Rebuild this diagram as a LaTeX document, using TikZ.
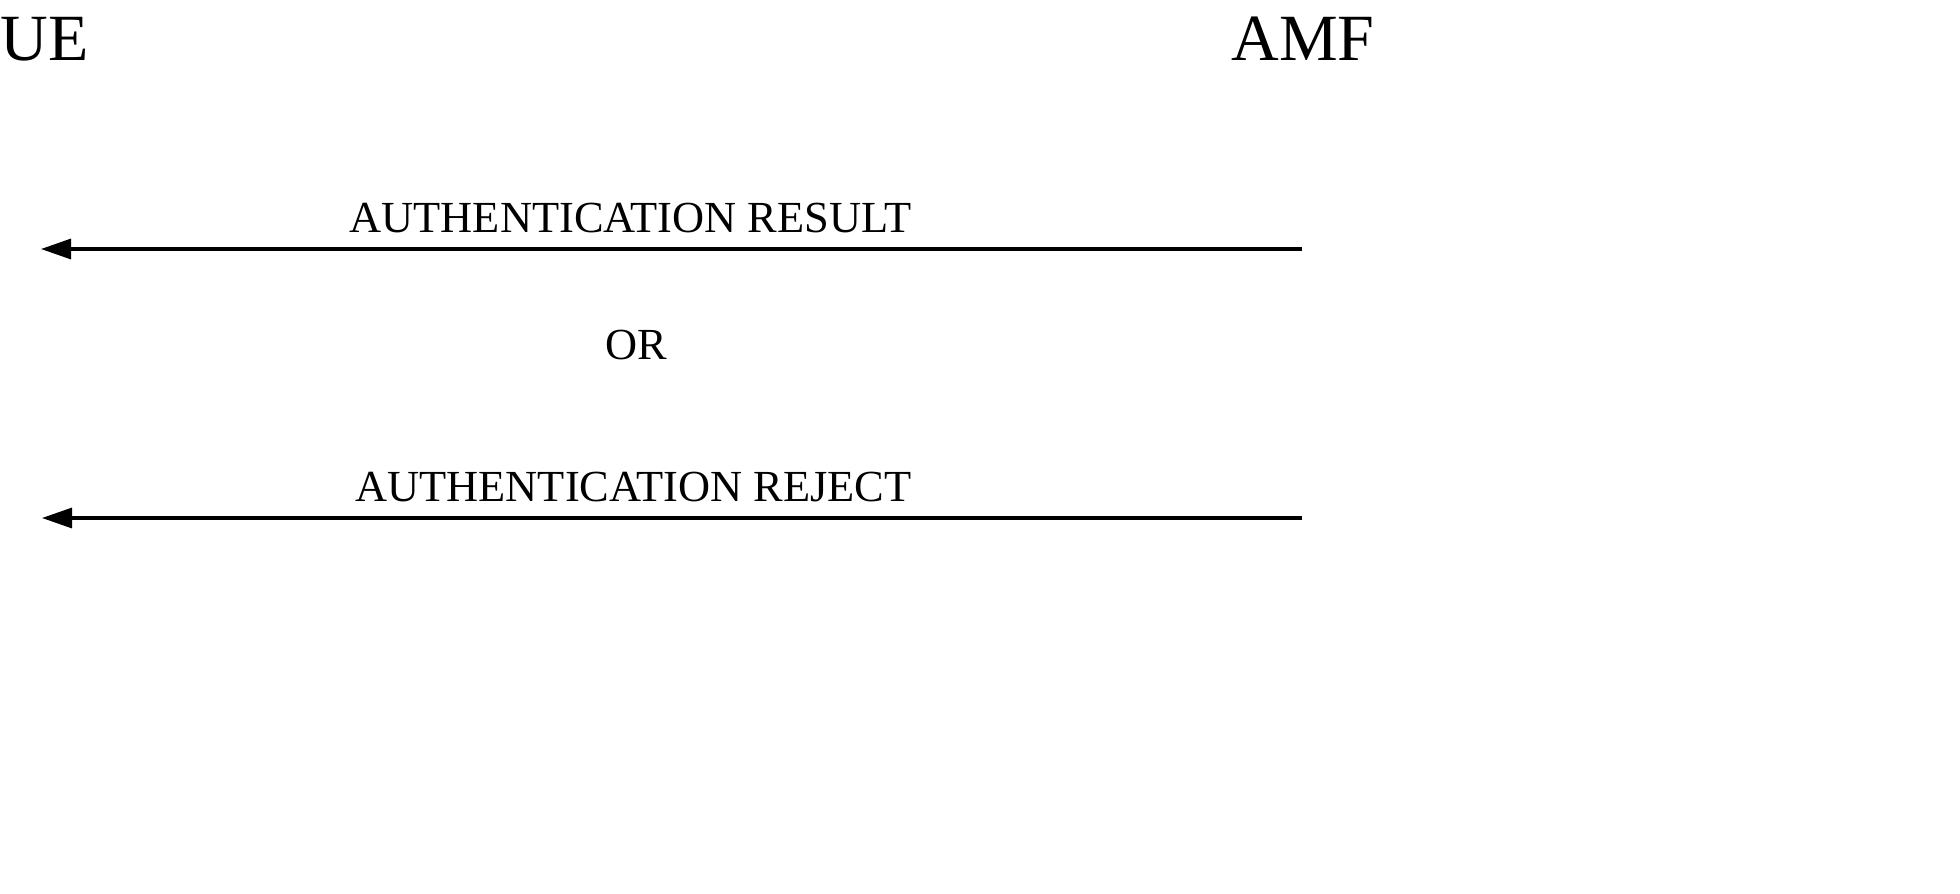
\documentclass[tikz,border=0pt]{standalone}
\usepackage{fontspec}
\setmainfont{Liberation Serif}
\usetikzlibrary{arrows.meta}
\tikzset{
  title/.style={font=\fontsize{33}{40}\selectfont, inner sep=0pt},
  msg/.style={font=\fontsize{22.2}{26}\selectfont, inner sep=0pt},
  arr/.style={line width=1.6pt, -{Triangle[length=15pt,width=10pt]}}
}
\begin{document}
\begin{tikzpicture}[x=0.5pt,y=-0.5pt]
\useasboundingbox (0,0) rectangle (1960,894);
\node[title, anchor=base west] (ue) at (0,61) {UE};
\node[title, anchor=base] (amf) at (1303,61) {AMF};
\coordinate (ueA) at (41,249);
\coordinate (amfA) at (1302,249);
\coordinate (ueB) at (42,518);
\coordinate (amfB) at (1302,518);
\draw[arr] (amfA) -- (ueA);
\draw[arr] (amfB) -- (ueB);
\node[msg, anchor=base east] (res) at (912,232) {AUTHENTICATION RESULT};
\node[msg, anchor=base] (or) at (636,359) {OR};
\node[msg, anchor=base east] (rej) at (912,501) {AUTHENTICATION REJECT};
\end{tikzpicture}
\end{document}
